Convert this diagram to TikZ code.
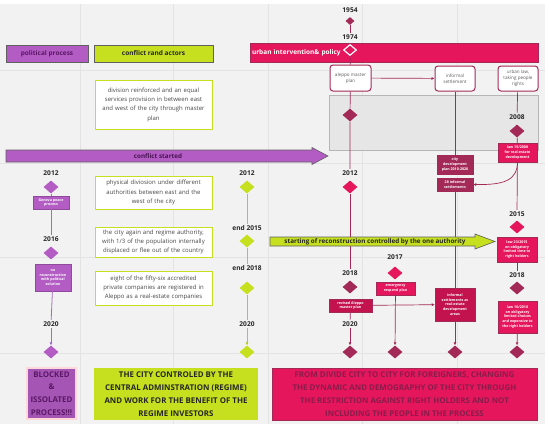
\documentclass[tikz,border=0pt]{standalone}
\usepackage{fontspec}
\setmainfont{Open Sans}
\usetikzlibrary{arrows.meta, shapes.geometric, positioning}
\definecolor{canvas}{HTML}{F2F2F2}
\definecolor{gridl}{HTML}{E3E3E3}
\definecolor{panel}{HTML}{E6E6E6}
\definecolor{polit}{HTML}{B35DC4}
\definecolor{politl}{HTML}{A46BC0}
\definecolor{politdk}{HTML}{5B1766}
\definecolor{conflim}{HTML}{C6E01F}
\definecolor{urbpink}{HTML}{E5165C}
\definecolor{urbdark}{HTML}{A32A57}
\definecolor{urbtext}{HTML}{8A1C4A}
\definecolor{ink}{HTML}{262626}

\begin{document}
\begin{tikzpicture}[x=1pt, y=-1pt, >={Latex[length=3pt, width=3pt]},
    hdr/.style={draw=gray!75!black, line width=0.8pt, minimum height=17pt, inner sep=0pt,
      font=\fontsize{6.5}{8}\selectfont\bfseries},
    yr/.style={font=\fontsize{6.6}{8}\selectfont\bfseries, text=ink, inner sep=1.5pt},
    dia/.style={diamond, minimum width=15pt, minimum height=13pt, inner sep=0pt},
    note/.style={draw=conflim, line width=1pt, fill=white, text width=113pt, align=center,
      inner sep=2pt, font=\fontsize{6}{9.3}\selectfont, text=ink!85},
    tag/.style={fill=urbpink, draw=urbdark, line width=0.5pt, text=white, align=center,
      inner sep=0.8pt, font=\fontsize{3.6}{4.7}\selectfont\bfseries},
    ptag/.style={tag, fill=polit, draw=polit!80!black},
    plan/.style={draw=urbdark, line width=1pt, fill=white, rounded corners=3pt, align=center,
      inner sep=1pt, font=\fontsize{4.6}{5.9}\selectfont, text=ink!75},
    outcome/.style={align=center, inner sep=0pt, font=\fontsize{7.9}{12.8}\selectfont\bfseries},
    plin/.style={draw=politl, line width=0.8pt},
    clin/.style={draw=conflim!90!black, line width=0.8pt},
    ulin/.style={draw=urbdark, line width=0.7pt}]

  \useasboundingbox (0,0) rectangle (550,432);
  \fill[canvas] (0,4) rectangle (545,424);
  \foreach \gx in {80,173,268,362,457}
    \draw[gridl, line width=0.6pt] (\gx,4) -- (\gx,424);
  \foreach \gy in {70,163,257,353}
    \draw[gridl, line width=0.6pt] (0,\gy) -- (545,\gy);

  % column headers
  \node[hdr, fill=polit, text=politdk, minimum width=82pt] (hpol) at (47,53.5) {political process};
  \node[hdr, fill=conflim, text=ink, minimum width=119pt] (hcon) at (153.5,53.5) {conflict rand actors};
  \node[hdr, fill=urbpink, draw=urbdark, text=white, minimum width=288pt, minimum height=19pt,
    text width=284pt, inner xsep=2pt, align=left] (hurb) at (394,53) {urban intervention\& policy};

  % start of the timeline
  \node[yr] (y54) at (350,10) {1954};
  \node[dia, fill=urbdark, minimum width=9pt, minimum height=8pt] (d54) at (350,21) {};
  \node[yr] (y74) at (350,37) {1974};
  \node[dia, draw=white, line width=1.2pt, minimum width=13pt, minimum height=11pt] (d74) at (350,50) {};
  \draw[ulin] (d54) -- (y74);

  \fill[panel] (329,95) rectangle (538,150);
  \draw[gridl!80!black, line width=0.4pt] (329,95) rectangle (538,150);

  \node[plan, minimum width=41pt, minimum height=26pt] (amp) at (350.5,78) {aleppo master\\plan};
  \node[plan, minimum width=40pt, minimum height=25pt] (inf) at (455,78.5) {informal\\settlement};
  \node[plan, minimum width=40pt, minimum height=25pt] (ulaw) at (518,78.5) {urban law,\\taking people\\rights};
  \draw[ulin, ->] (amp) -- (inf);

  % conflict started
  \fill[polit] (6,150) -- (312,150) -- (312,147.5) -- (328,156) -- (312,164.5) -- (312,162) -- (6,162) -- cycle;
  \draw[gray!75!black, line width=0.6pt] (6,150) -- (312,150) -- (312,147.5) -- (328,156) -- (312,164.5) -- (312,162) -- (6,162) -- cycle;
  \node[font=\fontsize{6.3}{8}\selectfont\bfseries, text=politdk!80!black] (cst) at (158,156) {conflict started};

  % political process
  \node[yr] (y12a) at (51,173) {2012};
  \node[dia, fill=polit] (d12a) at (51,187) {};
  \node[ptag, minimum width=36pt, minimum height=13pt] (gen) at (51,202.5) {Geneva peace\\process};
  \node[yr] (y16a) at (51,239) {2016};
  \node[dia, fill=polit] (d16a) at (51,253) {};
  \node[ptag, minimum width=36pt, minimum height=27pt] (norec) at (53,277.5) {no\\reconstruction\\with political\\solution};
  \node[yr] (y20a) at (51,324) {2020};
  \node[dia, fill=polit] (d20a) at (51,352) {};
  \draw[plin] (d12a) -- (gen) -- (y16a);
  \draw[plin] (norec) -- (y20a);
  \draw[plin, ->] (y20a) -- (d20a);

  % conflict and actors
  \node[note, minimum height=49pt] (n1) at (153.5,104.5)
    {division reinforced and an equal\\services provision in between east\\and west of the city through master\\plan};
  \node[note, minimum height=33pt] (n2) at (153.5,192.5)
    {physical diviosion under different\\authorities between east and the\\west of the city};
  \node[note, minimum height=30pt] (n3) at (153.5,242)
    {the city again and regime authority,\\with 1/3 of the population internally\\displaced or flee out of the country};
  \node[note, minimum height=34pt] (n4) at (153.5,288)
    {eight of the fifty-six accredited\\private companies are registered in\\Aleppo as a real-estate companies};

  \node[yr] (y12b) at (247,173) {2012};
  \node[dia, fill=conflim] (d12b) at (247,187) {};
  \node[yr] (y15b) at (247,228) {end 2015};
  \node[dia, fill=conflim] (d15b) at (247,241) {};
  \node[yr] (y18b) at (247,268) {end 2018};
  \node[dia, fill=conflim] (d18b) at (247,288) {};
  \node[yr] (y20b) at (247,324) {2020};
  \node[dia, fill=conflim] (d20b) at (247,352) {};
  \draw[clin] (d12b) -- (y15b);
  \draw[clin] (d15b) -- (y18b);
  \draw[clin] (d18b) -- (y20b);
  \draw[clin, ->] (y20b) -- (d20b);

  % urban intervention: master plan
  \node[dia, fill=urbdark] (da1) at (350,115) {};
  \node[yr] (y12c) at (350,173) {2012};
  \node[dia, fill=urbpink] (d12c) at (350,187) {};
  \node[yr] (y18c) at (350,273) {2018};
  \node[dia, fill=urbdark] (d18c) at (350,287) {};
  \node[tag, fill=urbpink!85!black, minimum width=43pt, minimum height=13pt] (rev) at (350.5,305.5) {revised Aleppo\\master plan};
  \node[yr] (y20c) at (350,324) {2020};
  \node[dia, fill=urbdark] (d20c) at (350,352) {};
  \draw[ulin] (d74) -- (amp);
  \draw[ulin] (amp) -- (da1) -- (y12c);
  \draw[ulin] (d12c) -- (y18c);
  \draw[ulin] (rev) -- (y20c);
  \draw[ulin, ->] (y20c) -- (d20c);

  % emergency plan
  \node[yr] (y17) at (395,257) {2017};
  \node[dia, fill=urbpink] (d17) at (395,273) {};
  \node[tag, minimum width=39pt, minimum height=13pt] (emr) at (395.5,288.5) {emergency\\respond plan};
  \node[dia, fill=urbdark] (d17b) at (395,352) {};
  \draw[ulin, ->] (emr) -- (d17b);

  % informal settlements
  \node[tag, fill=urbdark, minimum width=36pt, minimum height=19pt] (cdp) at (455,164.5) {city\\development\\plan 2010-2020};
  \node[tag, fill=urbdark, minimum width=36pt, minimum height=13pt] (inf28) at (455,184.5) {28 informal\\settlements};
  \node[tag, fill=urbpink!85!black, minimum width=40pt, minimum height=33pt] (res) at (455,304.5) {informal\\settlements as\\real-estate\\development\\areas};
  \node[dia, fill=urbdark] (dinf) at (455,352) {};
  \draw[ulin] (inf) -- (cdp);
  \draw[ulin] (inf28) -- (res);
  \draw[ulin, ->] (res) -- (dinf);
  \draw[ulin, ->] (rev) -- (res);

  % urban law
  \node[yr] (y08) at (517,117) {2008};
  \node[dia, fill=urbdark] (d08) at (517,131) {};
  \node[tag, minimum width=39pt, minimum height=19pt] (l15) at (517.5,152.5) {law 15/2008\\for real-estate\\development};
  \node[yr] (y15c) at (517,214) {2015};
  \node[dia, fill=urbpink] (d15c) at (517,227) {};
  \node[tag, minimum width=40pt, minimum height=25pt] (l23) at (517,249.5) {law 23/2015\\on obligatory\\limited time to\\right holders};
  \node[yr] (y18d) at (517,275) {2018};
  \node[dia, fill=urbdark] (d18d) at (517,288) {};
  \node[tag, minimum width=39pt, minimum height=32pt] (l10) at (517.5,317) {law 10/2018\\on obligatory\\limited choices\\and expensive to\\the right holders};
  \node[dia, fill=urbdark] (d10) at (517,352) {};
  \draw[ulin] (ulaw) -- (y08);
  \draw[ulin] (d08) -- (l15) -- (y15c);
  \draw[ulin, ->] (l15.south) .. controls (517,180) and (505,185) .. (inf28.east);
  \draw[ulin] (l23) -- (y18d);
  \draw[ulin, ->] (l10) -- (d10);

  % starting of reconstruction
  \fill[conflim] (270,237) -- (475,237) -- (475,234) -- (495,241.5) -- (475,249) -- (475,246) -- (270,246) -- cycle;
  \draw[gray!75!black, line width=0.6pt] (270,237) -- (475,237) -- (475,234) -- (495,241.5) -- (475,249) -- (475,246) -- (270,246) -- cycle;
  \node[font=\fontsize{6.3}{8}\selectfont\bfseries, text=ink] (rec) at (375,241.5)
    {starting of reconstruction controlled by the one authority};

  % outcomes
  \node[outcome, fill=polit!92!black, draw=pink!60, line width=1.2pt, text=politdk,
    minimum width=49pt, minimum height=51pt] (blk) at (51.5,393.5) {BLOCKED\\\&\\ISSOLATED\\PROCESS!!!};
  \node[outcome, fill=conflim, text=ink, minimum width=164pt, minimum height=52pt] (reg) at (176,394)
    {THE CITY CONTROLED BY THE\\CENTRAL ADMINSTRATION (REGIME)\\AND WORK FOR THE BENEFIT OF THE\\REGIME INVESTORS};
  \node[outcome, fill=urbpink, draw=urbdark, line width=0.6pt, text=urbtext,
    minimum width=265pt, minimum height=52pt] (frg) at (404.5,394)
    {FROM DIVIDE CITY TO CITY FOR FOREIGNERS, CHANGING\\THE DYNAMIC AND DEMOGRAPHY OF THE CITY THROUGH\\THE RESTRICTION AGAINST RIGHT HOLDERS AND NOT\\INCLUDING THE PEOPLE IN THE PROCESS};
\end{tikzpicture}
\end{document}
